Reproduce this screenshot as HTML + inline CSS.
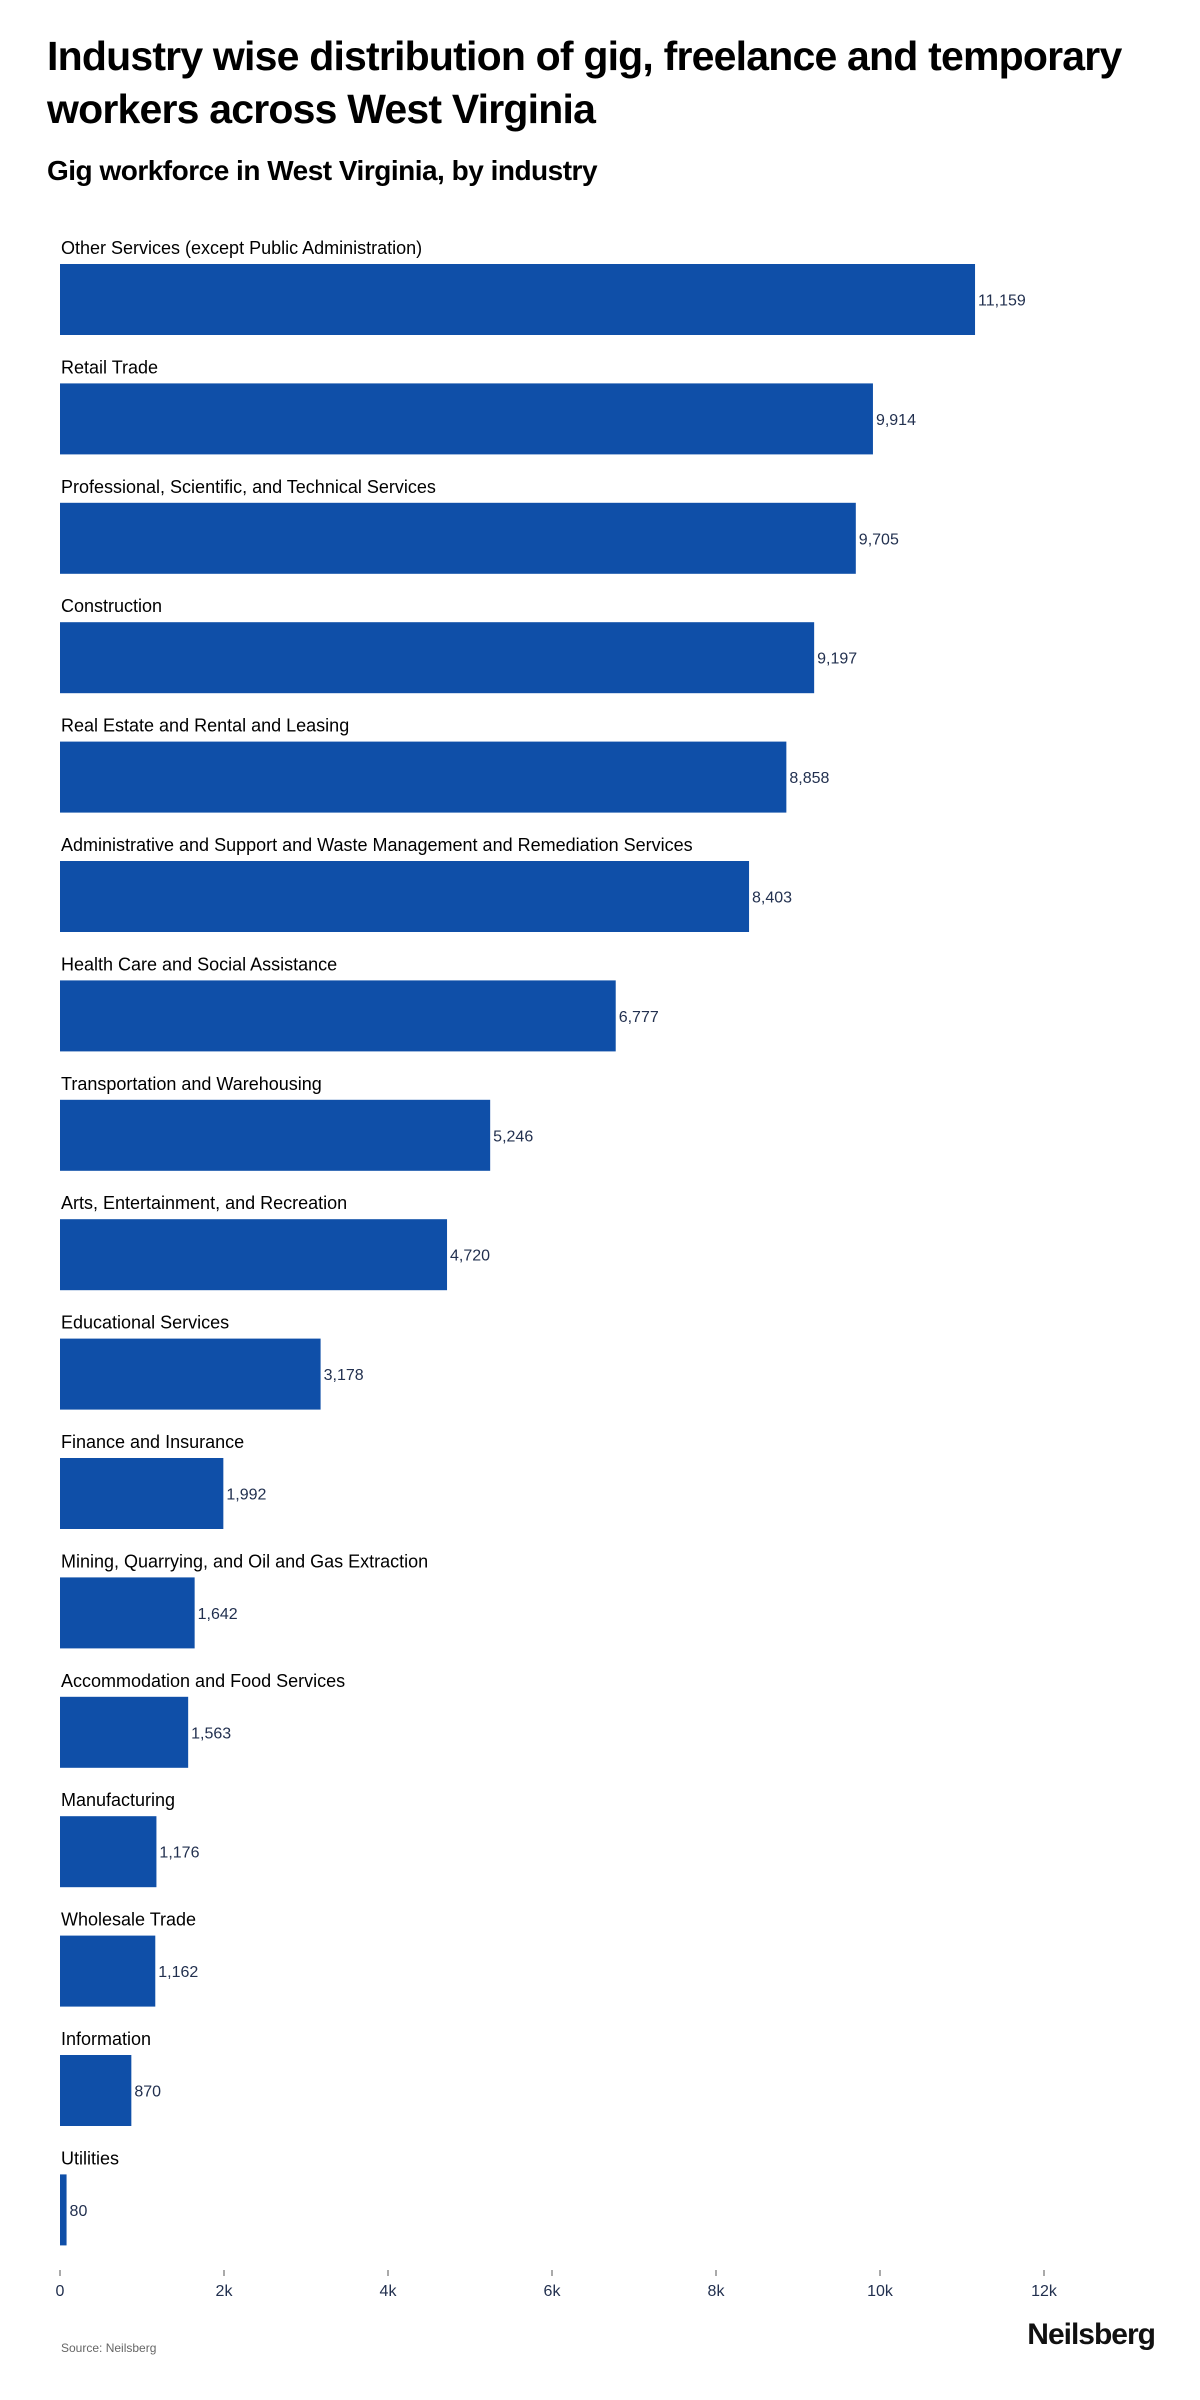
<!DOCTYPE html>
<html><head><meta charset="utf-8">
<style>
body{margin:0;background:#fff;font-family:"Liberation Sans",sans-serif;}
#wrap{position:relative;width:1200px;height:2400px;overflow:hidden;}
h1{position:absolute;left:47px;top:30px;margin:0;font-size:41px;line-height:53px;font-weight:bold;color:#000;letter-spacing:-0.8px;width:1100px;}
h2{position:absolute;left:47px;top:155px;margin:0;font-size:28px;font-weight:bold;color:#000;letter-spacing:-0.5px;}
.src{position:absolute;left:61px;top:2341px;font-size:12px;color:#666;}
.logo{position:absolute;right:45px;top:2318px;font-size:30px;font-weight:bold;color:#111;letter-spacing:-1px;}
</style></head>
<body><div id="wrap">
<h1>Industry wise distribution of gig, freelance and temporary workers across West Virginia</h1>
<h2>Gig workforce in West Virginia, by industry</h2>
<svg id="chart" width="1200" height="2400" style="position:absolute;left:0;top:0"></svg>
<div class="src">Source: Neilsberg</div>
<div class="logo">Neilsberg</div>
</div>
<script>
const categories=["Other Services (except Public Administration)","Retail Trade","Professional, Scientific, and Technical Services","Construction","Real Estate and Rental and Leasing","Administrative and Support and Waste Management and Remediation Services","Health Care and Social Assistance","Transportation and Warehousing","Arts, Entertainment, and Recreation","Educational Services","Finance and Insurance","Mining, Quarrying, and Oil and Gas Extraction","Accommodation and Food Services","Manufacturing","Wholesale Trade","Information","Utilities"];
const values=[11159,9914,9705,9197,8858,8403,6777,5246,4720,3178,1992,1642,1563,1176,1162,870,80];
const ticks=[0,2000,4000,6000,8000,10000,12000];
const tickLabels=["0","2k","4k","6k","8k","10k","12k"];
const NS="http://www.w3.org/2000/svg";
const svg=document.getElementById('chart');
const x0=60,pxPerUnit=82/1000;
const xScale=v=>x0+v*pxPerUnit;
const rowTop=i=>264+i*119.4;
const barH=71;
function mk(tag,attrs,text){const e=document.createElementNS(NS,tag);for(const k in attrs)e.setAttribute(k,attrs[k]);if(text!==undefined)e.textContent=text;svg.appendChild(e);return e;}
categories.forEach((c,i)=>{
  const y=rowTop(i);
  const lab=mk('text',{x:61,y:y-10,'font-size':18,fill:'#000','font-family':'Liberation Sans, sans-serif'},c);
  
  
  const w=xScale(values[i])-x0;
  const r=mk('rect',{x:x0,y:y,width:w,height:barH,fill:'#0f4fa8'});
  
  
  const v=mk('text',{x:xScale(values[i])+3,y:y+barH/2+6,'font-size':16,fill:'#22304f','font-family':'Liberation Sans, sans-serif'},values[i].toLocaleString('en-US'));
  
  
});
ticks.forEach((t,i)=>{
  const x=xScale(t);
  const l=mk('line',{x1:x,x2:x,y1:2270,y2:2276,stroke:'#555','stroke-width':1});
  
  
  const tx=mk('text',{x:x,y:2296,'font-size':16,fill:'#22304f','text-anchor':'middle','font-family':'Liberation Sans, sans-serif'},tickLabels[i]);
  
  
});
</script>
</body></html>
